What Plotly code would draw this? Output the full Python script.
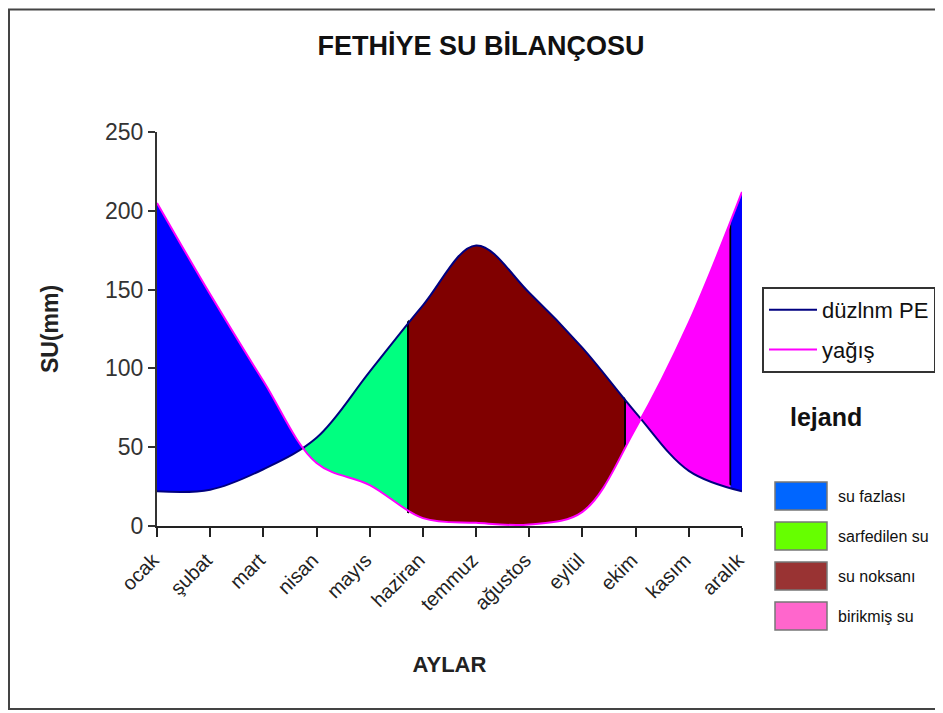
import plotly.graph_objects as go

# ---------------- data ----------------
months = ["ocak", "şubat", "mart", "nisan", "mayıs", "haziran",
          "temmuz", "ağustos", "eylül", "ekim", "kasım", "aralık"]
pe_values = [22, 23, 36, 56, 98, 140, 178, 148, 113, 72, 35, 22]          # düzlnm PE (mm)
yagis_values = [205, 147, 92, 40, 26, 5, 2, 1, 9, 62, 129, 212]          # yağış (mm)
# water-balance periods, in month units along the axis (start/end of each period)
period_bounds = [0, 2.78, 4.72, 8.80, 10.78, 11]
period_kind = ["su fazlası", "sarfedilen su", "su noksanı", "birikmiş su", "su fazlası"]
legend_labels = ["su fazlası", "sarfedilen su", "su noksanı", "birikmiş su"]
y_ticks = [0, 50, 100, 150, 200, 250]

# ---------------- style ----------------
FONT = "Liberation Sans, Arial, sans-serif"
fill_colors = {"su fazlası": "#0000FF", "sarfedilen su": "#00FF80",
               "su noksanı": "#800000", "birikmiş su": "#FF00FF"}
legend_swatch = {"su fazlası": "#0066FF", "sarfedilen su": "#66FF00",
                 "su noksanı": "#993333", "birikmiş su": "#FF66CC"}
OFF = 8                      # page body margin
W, H = 943 - OFF, 713 - OFF
ML, MT = 157 - OFF, 132 - OFF
PW, PH = 585, 394
MR, MB = W - ML - PW, H - MT - PH

def px_x(p):   # screen pixel -> paper x
    return (p - OFF - ML) / PW

def px_y(p):   # screen pixel -> paper y
    return (MT + PH - (p - OFF)) / PH

x = list(range(len(months)))
n = len(months) - 1

fig = go.Figure()
layout_axes = {}

def axis_key(i):
    return "xaxis" if i == 1 else f"xaxis{i}"

def axis_id(i):
    return "x" if i == 1 else f"x{i}"

def add_band(ax_num, a, b, color):
    layout_axes[axis_key(ax_num)] = dict(domain=[max(0, a / n), min(1, b / n)], range=[a, b],
                                          anchor="y", visible=False, fixedrange=True)
    fig.add_trace(go.Scatter(x=x, y=pe_values, xaxis=axis_id(ax_num), yaxis="y", mode="lines",
                             line=dict(width=0, shape="spline"), showlegend=False, hoverinfo="skip"))
    fig.add_trace(go.Scatter(x=x, y=yagis_values, xaxis=axis_id(ax_num), yaxis="y", mode="lines",
                             line=dict(width=0, shape="spline"), fill="tonexty", fillcolor=color,
                             showlegend=False, hoverinfo="skip"))

ax_num = 1
# coloured periods, each clipped to its own horizontal slice of the plot
for a, b, kind in zip(period_bounds[:-1], period_bounds[1:], period_kind):
    add_band(ax_num, a, b, fill_colors[kind])
    ax_num += 1

# thin black separators between the drawn periods
half = 0.9 / PW * n
for bnd in period_bounds[2:-1]:
    add_band(ax_num, bnd - half, bnd + half, "#000000")
    ax_num += 1

# main axis with the curves and the month labels
main = ax_num
layout_axes[axis_key(main)] = dict(
    domain=[0, 1], range=[0, n], anchor="y",
    tickmode="array", tickvals=x, ticktext=[m + "\u00a0" for m in months], tickangle=-45,
    ticks="outside", ticklen=9, tickwidth=1.5, tickcolor="#222",
    showline=True, linecolor="#222", linewidth=1.5, showgrid=False, zeroline=False,
    tickfont=dict(family=FONT, size=20, color="#222"),
    title=dict(text="<b>AYLAR</b>", font=dict(family=FONT, size=22, color="#222"), standoff=43),
)

fig.add_trace(go.Scatter(x=x, y=pe_values, xaxis=axis_id(main), yaxis="y", mode="lines",
                         name="düzlnm PE", legendgroup="pe",
                         line=dict(color="#000080", width=2, shape="spline")))
fig.add_trace(go.Scatter(x=x, y=yagis_values, xaxis=axis_id(main), yaxis="y", mode="lines",
                         name="yağış", legendgroup="yg",
                         line=dict(color="#FF00FF", width=2, shape="spline")))

shapes = [dict(type="rect", xref="paper", yref="paper",
               x0=px_x(9), x1=px_x(990), y0=px_y(709), y1=px_y(9.5),
               line=dict(color="#444", width=2), fillcolor="rgba(0,0,0,0)", layer="below")]
annotations = [dict(text="<b>lejand</b>", xref="paper", yref="paper", x=px_x(826), y=px_y(417),
                    xanchor="center", yanchor="middle",
                    showarrow=False, font=dict(family=FONT, size=25, color="#111"))]
for i, lab in enumerate(legend_labels):
    top = 482 + 40 * i
    shapes.append(dict(type="rect", xref="paper", yref="paper",
                       x0=px_x(775), x1=px_x(827), y0=px_y(top + 28), y1=px_y(top),
                       line=dict(color="#777", width=1.5), fillcolor=legend_swatch[lab]))
    annotations.append(dict(text=lab, xref="paper", yref="paper", x=px_x(836), y=px_y(top + 14),
                            xanchor="left", yanchor="middle", showarrow=False,
                            font=dict(family=FONT, size=16, color="#111")))

fig.update_layout(
    width=W, height=H,
    margin=dict(l=ML, r=MR, t=MT, b=MB, autoexpand=False),
    paper_bgcolor="white", plot_bgcolor="rgba(0,0,0,0)",
    title=dict(text="<b>FETHİYE SU BİLANÇOSU</b>", x=(481 - OFF) / W, xref="container",
               xanchor="center", y=1 - (46 - OFF) / H, yref="container", yanchor="middle",
               font=dict(family=FONT, size=27, color="#111")),
    yaxis=dict(domain=[0, 1], range=[0, 250], anchor="x", tickvals=y_ticks,
               ticks="outside", ticklen=7, tickwidth=1.5, tickcolor="#333",
               showline=True, linecolor="#333", linewidth=2, showgrid=False, zeroline=False,
               tickfont=dict(family=FONT, size=23, color="#333"),
               title=dict(text="<b>SU(mm)</b>", font=dict(family=FONT, size=23, color="#222"), standoff=40)),
    legend=dict(x=px_x(762), y=px_y(287), xref="paper", yref="paper", xanchor="left", yanchor="top",
                bordercolor="#333", borderwidth=2, bgcolor="white", itemwidth=48,
                entrywidth=200, entrywidthmode="pixels",
                tracegroupgap=8, font=dict(family=FONT, size=22, color="#111")),
    shapes=shapes, annotations=annotations, showlegend=True,
    **layout_axes,
)

fig.write_html("out.html")
